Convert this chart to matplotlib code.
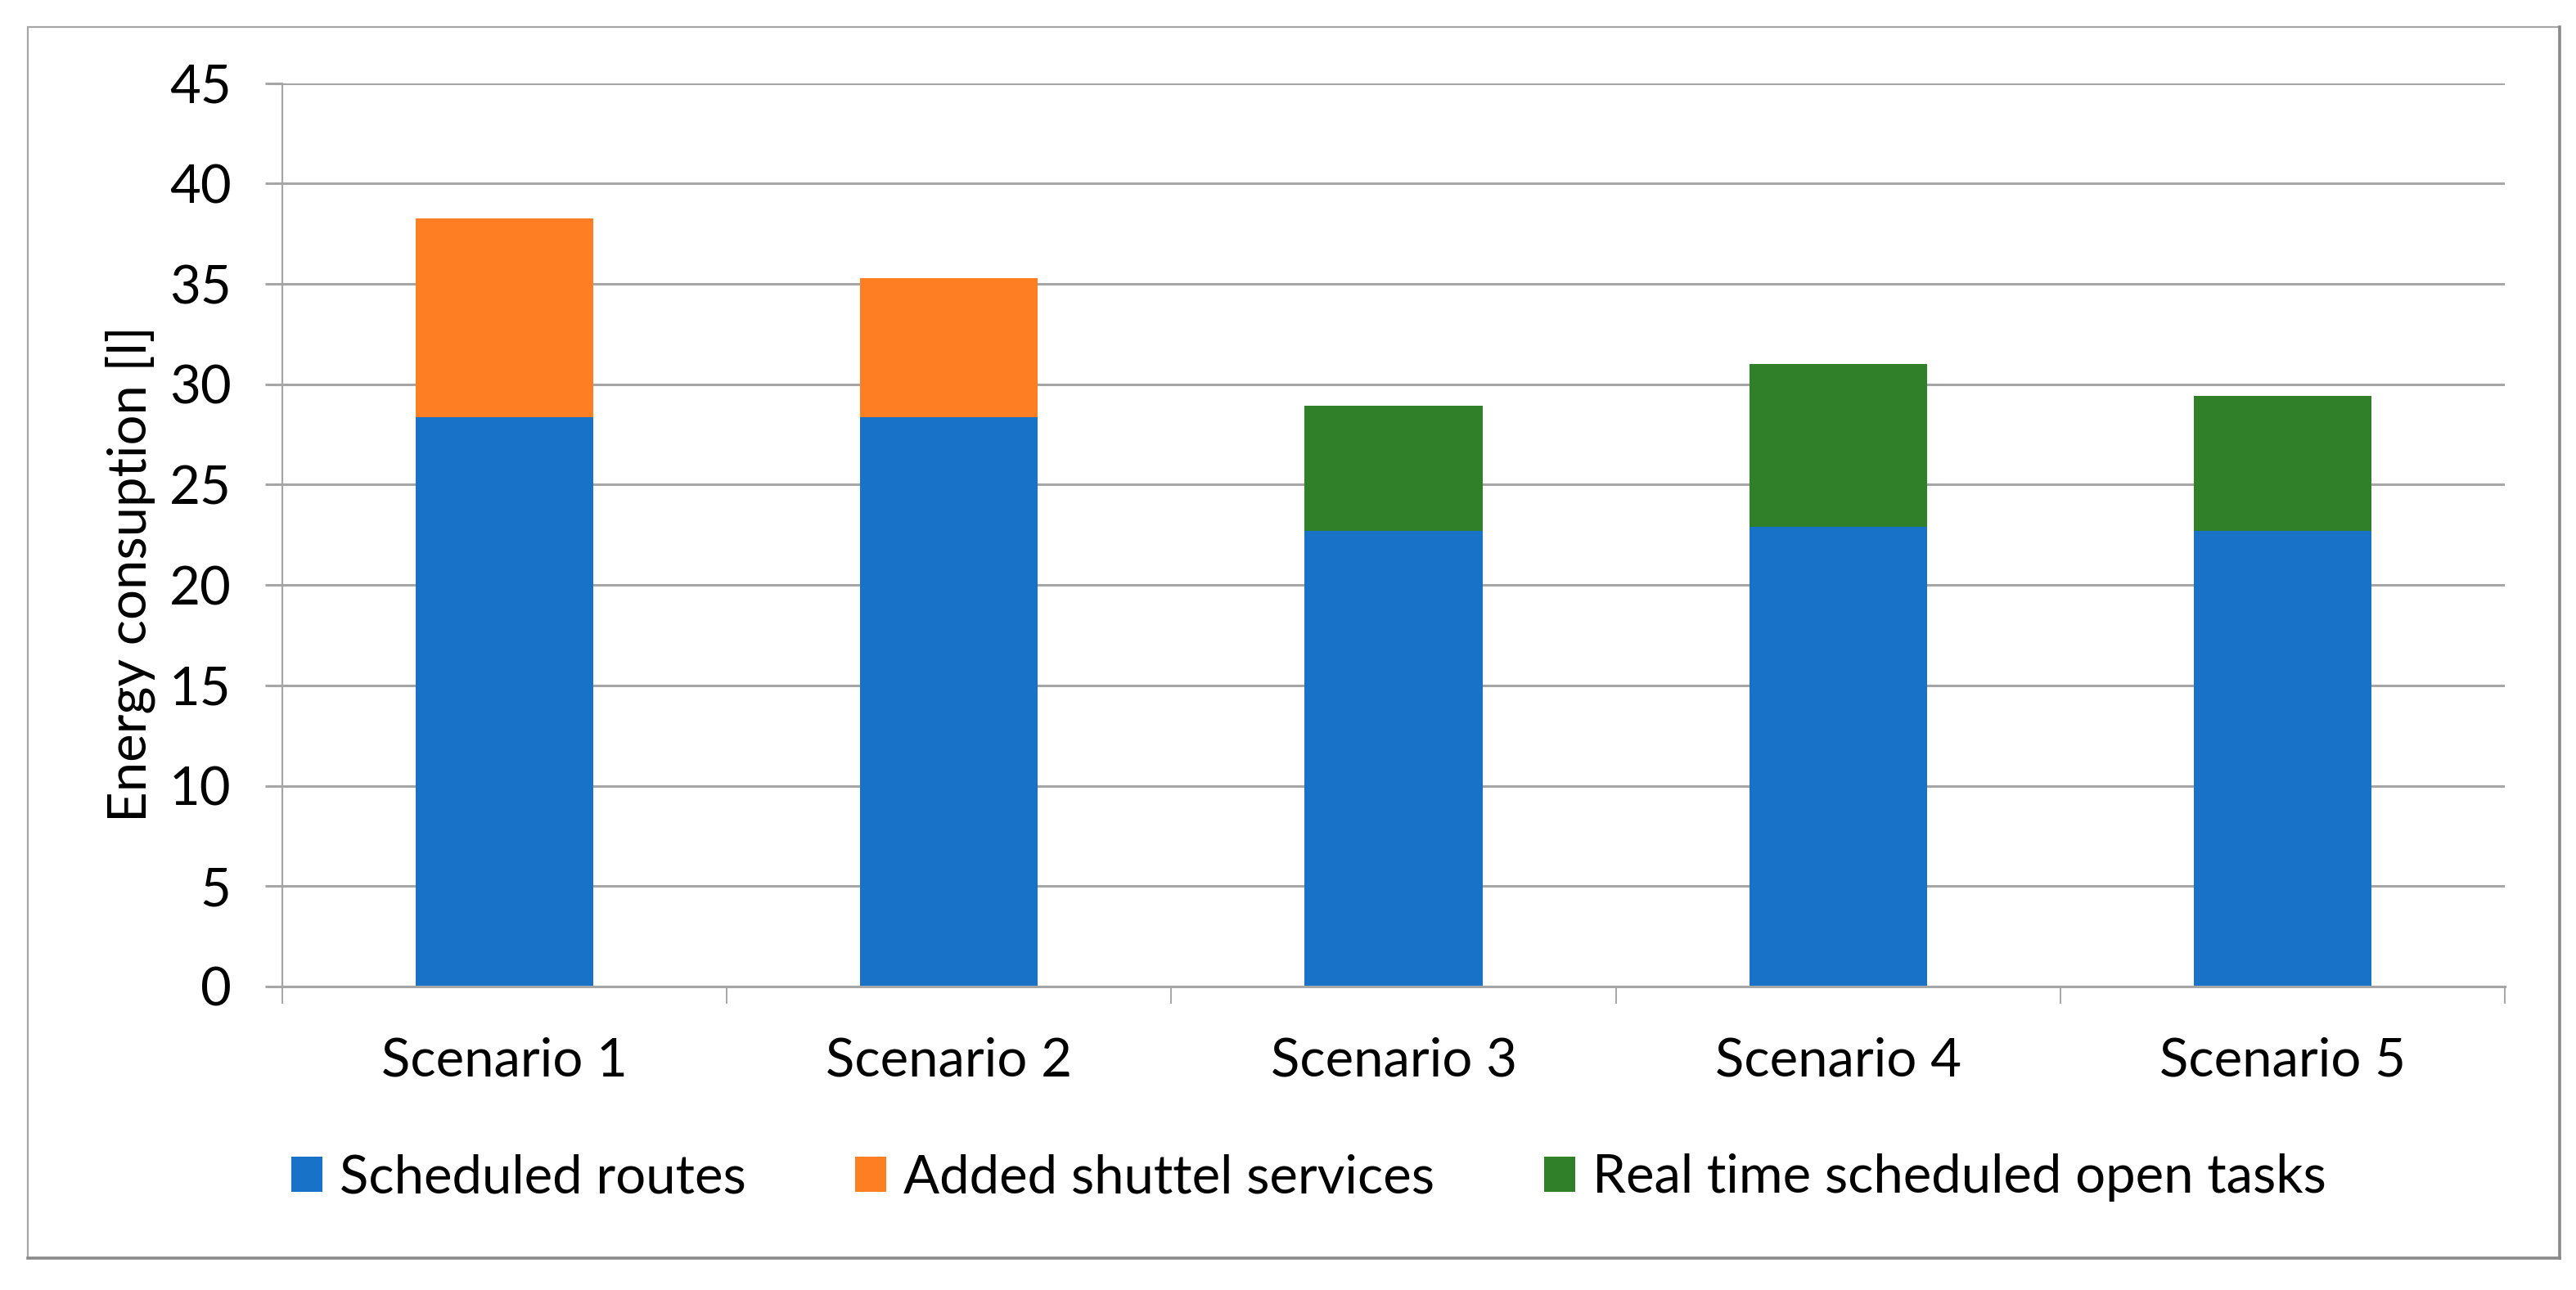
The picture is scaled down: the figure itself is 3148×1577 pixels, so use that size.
import numpy as np
import matplotlib
matplotlib.use("Agg")
import matplotlib.pyplot as plt
from matplotlib.patches import Rectangle
from matplotlib.lines import Line2D

# values
scenarios = ["Scenario 1", "Scenario 2", "Scenario 3", "Scenario 4", "Scenario 5"]
scheduled = [28.37, 28.37, 22.70, 22.91, 22.70]
shuttle = [9.90, 6.93, 0, 0, 0]
realtime = [0, 0, 6.25, 8.08, 6.73]
series_names = ["Scheduled routes", "Added shuttel services", "Real time scheduled open tasks"]
colors = ["#1873c8", "#fd7e23", "#2f8029"]
y_ticks = list(range(0, 46, 5))

plt.rcParams["font.family"] = ["Lato", "DejaVu Sans"]
grid_col = "#a6a6a6"
fs = 23.5

fig = plt.figure(figsize=(15.74, 7.885), dpi=200)
ax = fig.add_axes([0.1096, 0.2353, 0.8628, 0.7002])

x = np.arange(len(scenarios))
w = 0.4
ax.bar(x, scheduled, w, color=colors[0], label=series_names[0])
ax.bar(x, shuttle, w, bottom=scheduled, color=colors[1], label=series_names[1])
ax.bar(x, realtime, w, bottom=np.add(scheduled, shuttle), color=colors[2], label=series_names[2])

ax.set_ylim(0, 45)
ax.set_yticks(y_ticks)
ax.set_xlim(-0.5, len(scenarios) - 0.5)

# category boundary ticks (Excel style), labels on minor ticks at centres
ax.set_xticks(np.arange(-0.5, len(scenarios), 1))
ax.set_xticklabels([])
ax.set_xticks(x, minor=True)
ax.set_xticklabels(scenarios, minor=True)
ax.tick_params(axis="x", which="major", length=7.5, width=0.7, color=grid_col, direction="out")
ax.tick_params(axis="x", which="minor", length=0, pad=22, labelsize=fs)
ax.tick_params(axis="y", length=7.5, width=1.1, color=grid_col, pad=15, labelsize=fs)

ax.yaxis.grid(True, color=grid_col, lw=1.1)
ax.set_axisbelow(True)
for s in ["top", "right"]:
    ax.spines[s].set_visible(False)
ax.spines["left"].set_color(grid_col)
ax.spines["left"].set_linewidth(0.8)
ax.spines["bottom"].set_color(grid_col)
ax.spines["bottom"].set_linewidth(1.1)

fig.text(0.0505, 0.555, "Energy consuption [l]", rotation=90, ha="center", va="center", fontsize=fs)

h, l = ax.get_legend_handles_labels()
fig.legend(h, l, loc="center", bbox_to_anchor=(0.508, 0.0869), ncol=3, frameon=False,
           fontsize=fs, handlelength=0.58, handleheight=0.63, handletextpad=0.32,
           columnspacing=2.05)

# outer chart border with a slight shadow on right/bottom
fig.patches.append(Rectangle((0.0108, 0.0247), 0.9828, 0.9543, transform=fig.transFigure,
                             fill=False, edgecolor=grid_col, lw=0.8))
fig.lines.append(Line2D([0.9936, 0.9936], [0.0247, 0.979], transform=fig.transFigure,
                        color="#8a8a8a", lw=1.3))
fig.lines.append(Line2D([0.0108, 0.9936], [0.0247, 0.0247], transform=fig.transFigure,
                        color="#8a8a8a", lw=1.3))

fig.savefig("out.png", dpi=200)
